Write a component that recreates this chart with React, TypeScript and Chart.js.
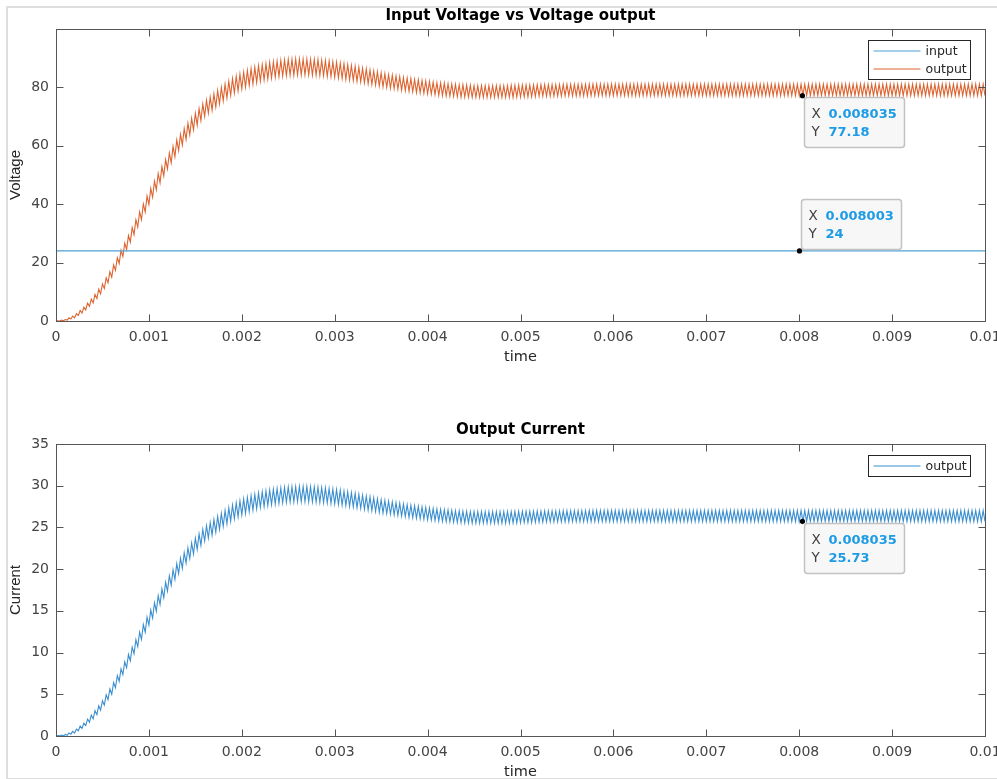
import React, { useEffect, useRef } from 'react';
import { Chart, registerables } from 'chart.js';

Chart.register(...registerables);

// ---------------- data ----------------
const SAMPLE_STEP = 0.00002; // seconds between consecutive samples (0 .. 0.01 s, 501 samples)

const X_TICKS = [0, 0.001, 0.002, 0.003, 0.004, 0.005, 0.006, 0.007, 0.008, 0.009, 0.01];
const VOLTAGE_Y_TICKS = [0, 20, 40, 60, 80];
const CURRENT_Y_TICKS = [0, 5, 10, 15, 20, 25, 30, 35];

const INPUT_TIME = [0, 0.01];
const INPUT_VOLTAGE = [24, 24];

const OUTPUT_VOLTAGE = [
  /* k0   */ 0.0, 0.1, 0.0, 0.3, 0.1, 0.5, 0.3, 1.1, 0.7, 1.7,
  /* k10  */ 1.1, 2.5, 1.9, 3.6, 2.7, 4.7, 3.8, 6.1, 5.0, 7.5,
  /* k20  */ 6.2, 9.1, 7.7, 10.9, 9.3, 12.7, 11.1, 14.8, 13.1, 16.9,
  /* k30  */ 15.0, 19.2, 17.3, 21.7, 19.7, 24.2, 22.1, 26.7, 24.5, 29.3,
  /* k40  */ 27.0, 32.0, 29.6, 34.7, 32.2, 37.4, 34.7, 40.1, 37.3, 42.8,
  /* k50  */ 39.9, 45.4, 42.4, 47.9, 44.9, 50.5, 47.3, 52.9, 49.7, 55.3,
  /* k60  */ 52.1, 57.6, 54.2, 59.8, 56.3, 62.0, 58.4, 63.9, 60.3, 65.9,
  /* k70  */ 62.2, 67.7, 63.8, 69.4, 65.5, 71.1, 67.1, 72.7, 68.6, 74.3,
  /* k80  */ 70.1, 75.6, 71.2, 76.7, 72.2, 77.8, 73.3, 78.9, 74.4, 80.0,
  /* k90  */ 75.4, 81.1, 76.4, 82.1, 77.3, 83.0, 78.1, 83.8, 78.8, 84.5,
  /* k100 */ 79.5, 85.2, 80.1, 85.8, 80.7, 86.4, 81.2, 86.9, 81.7, 87.4,
  /* k110 */ 82.2, 87.8, 82.6, 88.1, 82.9, 88.5, 83.2, 88.7, 83.5, 89.0,
  /* k120 */ 83.7, 89.2, 83.9, 89.4, 84.1, 89.6, 84.2, 89.6, 84.2, 89.7,
  /* k130 */ 84.3, 89.7, 84.3, 89.7, 84.3, 89.7, 84.3, 89.6, 84.2, 89.6,
  /* k140 */ 84.2, 89.5, 84.1, 89.3, 84.0, 89.2, 83.8, 89.0, 83.7, 88.8,
  /* k150 */ 83.5, 88.6, 83.3, 88.3, 83.1, 88.1, 82.8, 87.8, 82.6, 87.5,
  /* k160 */ 82.4, 87.2, 82.1, 86.9, 81.9, 86.6, 81.6, 86.3, 81.3, 85.9,
  /* k170 */ 81.0, 85.6, 80.8, 85.3, 80.5, 85.0, 80.2, 84.7, 80.0, 84.4,
  /* k180 */ 79.8, 84.2, 79.6, 83.9, 79.4, 83.7, 79.1, 83.4, 78.9, 83.2,
  /* k190 */ 78.7, 83.0, 78.5, 82.7, 78.3, 82.6, 78.2, 82.4, 78.0, 82.2,
  /* k200 */ 77.8, 82.0, 77.7, 81.8, 77.5, 81.6, 77.3, 81.5, 77.2, 81.4,
  /* k210 */ 77.1, 81.2, 77.0, 81.1, 76.9, 81.0, 76.8, 80.9, 76.7, 80.9,
  /* k220 */ 76.7, 80.8, 76.7, 80.7, 76.6, 80.6, 76.6, 80.6, 76.6, 80.6,
  /* k230 */ 76.6, 80.6, 76.6, 80.6, 76.6, 80.6, 76.6, 80.6, 76.6, 80.6,
  /* k240 */ 76.6, 80.6, 76.6, 80.6, 76.6, 80.7, 76.6, 80.7, 76.7, 80.8,
  /* k250 */ 76.7, 80.8, 76.8, 80.8, 76.8, 80.8, 76.8, 80.8, 76.9, 80.9,
  /* k260 */ 77.0, 80.9, 77.0, 80.9, 77.0, 80.9, 77.0, 80.9, 77.0, 80.9,
  /* k270 */ 77.0, 80.9, 77.0, 81.0, 77.1, 81.0, 77.1, 81.0, 77.1, 81.0,
  /* k280 */ 77.1, 81.0, 77.1, 81.0, 77.1, 81.0, 77.1, 81.1, 77.2, 81.1,
  /* k290 */ 77.2, 81.1, 77.2, 81.1, 77.2, 81.1, 77.2, 81.1, 77.2, 81.1,
  /* k300 */ 77.2, 81.1, 77.2, 81.1, 77.2, 81.1, 77.2, 81.1, 77.2, 81.1,
  /* k310 */ 77.2, 81.1, 77.2, 81.1, 77.2, 81.1, 77.2, 81.1, 77.2, 81.1,
  /* k320 */ 77.2, 81.1, 77.2, 81.1, 77.2, 81.1, 77.2, 81.1, 77.2, 81.1,
  /* k330 */ 77.2, 81.1, 77.2, 81.1, 77.2, 81.1, 77.2, 81.1, 77.2, 81.1,
  /* k340 */ 77.2, 81.1, 77.2, 81.1, 77.2, 81.1, 77.2, 81.1, 77.2, 81.1,
  /* k350 */ 77.2, 81.1, 77.2, 81.1, 77.2, 81.1, 77.2, 81.1, 77.2, 81.1,
  /* k360 */ 77.2, 81.1, 77.2, 81.1, 77.2, 81.1, 77.2, 81.1, 77.2, 81.1,
  /* k370 */ 77.2, 81.1, 77.2, 81.1, 77.2, 81.1, 77.2, 81.1, 77.2, 81.1,
  /* k380 */ 77.2, 81.1, 77.2, 81.1, 77.2, 81.1, 77.2, 81.1, 77.2, 81.1,
  /* k390 */ 77.2, 81.1, 77.2, 81.1, 77.2, 81.1, 77.2, 81.1, 77.2, 81.1,
  /* k400 */ 77.2, 81.1, 77.2, 81.1, 77.2, 81.1, 77.2, 81.1, 77.2, 81.1,
  /* k410 */ 77.2, 81.1, 77.2, 81.1, 77.2, 81.1, 77.2, 81.1, 77.2, 81.1,
  /* k420 */ 77.2, 81.1, 77.2, 81.1, 77.2, 81.1, 77.2, 81.1, 77.2, 81.1,
  /* k430 */ 77.2, 81.1, 77.2, 81.1, 77.2, 81.1, 77.2, 81.1, 77.2, 81.1,
  /* k440 */ 77.2, 81.1, 77.2, 81.1, 77.2, 81.1, 77.2, 81.1, 77.2, 81.1,
  /* k450 */ 77.2, 81.1, 77.2, 81.1, 77.2, 81.1, 77.2, 81.1, 77.2, 81.1,
  /* k460 */ 77.2, 81.1, 77.2, 81.1, 77.2, 81.1, 77.2, 81.1, 77.2, 81.1,
  /* k470 */ 77.2, 81.1, 77.2, 81.1, 77.2, 81.1, 77.2, 81.1, 77.2, 81.1,
  /* k480 */ 77.2, 81.1, 77.2, 81.1, 77.2, 81.1, 77.2, 81.1, 77.2, 81.1,
  /* k490 */ 77.2, 81.1, 77.2, 81.1, 77.2, 81.1, 77.2, 81.1, 77.2, 81.1,
  /* k500 */ 77.2,
];

const OUTPUT_CURRENT = [
  /* k0   */ 0.00, 0.04, 0.01, 0.11, 0.02, 0.18, 0.09, 0.37, 0.22, 0.56,
  /* k10  */ 0.35, 0.83, 0.63, 1.19, 0.91, 1.55, 1.25, 2.03, 1.65, 2.51,
  /* k20  */ 2.05, 3.04, 2.58, 3.63, 3.11, 4.22, 3.70, 4.93, 4.35, 5.64,
  /* k30  */ 5.00, 6.41, 5.78, 7.23, 6.56, 8.05, 7.36, 8.91, 8.18, 9.77,
  /* k40  */ 9.00, 10.65, 9.86, 11.55, 10.72, 12.45, 11.58, 13.35, 12.44, 14.25,
  /* k50  */ 13.30, 15.12, 14.13, 15.97, 14.96, 16.82, 15.78, 17.63, 16.57, 18.44,
  /* k60  */ 17.36, 19.20, 18.07, 19.93, 18.78, 20.66, 19.46, 21.31, 20.09, 21.96,
  /* k70  */ 20.72, 22.56, 21.27, 23.13, 21.82, 23.70, 22.36, 24.23, 22.87, 24.76,
  /* k80  */ 23.38, 25.20, 23.73, 25.57, 24.08, 25.94, 24.44, 26.31, 24.79, 26.68,
  /* k90  */ 25.14, 27.02, 25.45, 27.35, 25.76, 27.68, 26.04, 27.93, 26.27, 28.18,
  /* k100 */ 26.50, 28.40, 26.70, 28.60, 26.90, 28.80, 27.08, 28.96, 27.24, 29.12,
  /* k110 */ 27.40, 29.26, 27.52, 29.38, 27.64, 29.50, 27.74, 29.58, 27.82, 29.66,
  /* k120 */ 27.90, 29.73, 27.96, 29.79, 28.02, 29.85, 28.06, 29.87, 28.08, 29.89,
  /* k130 */ 28.10, 29.90, 28.10, 29.90, 28.10, 29.90, 28.09, 29.88, 28.07, 29.86,
  /* k140 */ 28.05, 29.83, 28.02, 29.78, 27.99, 29.73, 27.94, 29.66, 27.89, 29.60,
  /* k150 */ 27.83, 29.53, 27.76, 29.44, 27.69, 29.35, 27.61, 29.26, 27.54, 29.17,
  /* k160 */ 27.47, 29.08, 27.38, 28.97, 27.29, 28.86, 27.19, 28.75, 27.10, 28.64,
  /* k170 */ 27.01, 28.54, 26.92, 28.43, 26.83, 28.32, 26.74, 28.23, 26.67, 28.14,
  /* k180 */ 26.60, 28.06, 26.52, 27.97, 26.45, 27.89, 26.37, 27.81, 26.30, 27.72,
  /* k190 */ 26.22, 27.65, 26.17, 27.58, 26.11, 27.52, 26.05, 27.45, 26.00, 27.39,
  /* k200 */ 25.94, 27.33, 25.89, 27.26, 25.83, 27.20, 25.78, 27.16, 25.74, 27.12,
  /* k210 */ 25.70, 27.08, 25.67, 27.03, 25.63, 26.99, 25.60, 26.97, 25.58, 26.95,
  /* k220 */ 25.56, 26.93, 25.55, 26.90, 25.53, 26.88, 25.52, 26.88, 25.52, 26.88,
  /* k230 */ 25.52, 26.88, 25.52, 26.88, 25.52, 26.88, 25.52, 26.88, 25.52, 26.88,
  /* k240 */ 25.52, 26.88, 25.52, 26.88, 25.52, 26.90, 25.54, 26.91, 25.55, 26.92,
  /* k250 */ 25.58, 26.93, 25.59, 26.94, 25.60, 26.93, 25.61, 26.94, 25.62, 26.95,
  /* k260 */ 25.65, 26.95, 25.66, 26.96, 25.67, 26.97, 25.67, 26.98, 25.68, 26.98,
  /* k270 */ 25.68, 26.98, 25.68, 26.99, 25.69, 26.99, 25.69, 27.00, 25.70, 27.00,
  /* k280 */ 25.70, 27.00, 25.70, 27.01, 25.71, 27.01, 25.71, 27.02, 25.72, 27.02,
  /* k290 */ 25.72, 27.02, 25.72, 27.02, 25.72, 27.02, 25.72, 27.02, 25.72, 27.02,
  /* k300 */ 25.72, 27.02, 25.72, 27.02, 25.72, 27.02, 25.72, 27.02, 25.72, 27.02,
  /* k310 */ 25.72, 27.02, 25.72, 27.02, 25.72, 27.02, 25.72, 27.02, 25.72, 27.02,
  /* k320 */ 25.72, 27.02, 25.72, 27.02, 25.72, 27.02, 25.72, 27.02, 25.72, 27.02,
  /* k330 */ 25.72, 27.02, 25.72, 27.02, 25.72, 27.02, 25.72, 27.02, 25.72, 27.02,
  /* k340 */ 25.72, 27.02, 25.72, 27.02, 25.72, 27.02, 25.72, 27.02, 25.72, 27.02,
  /* k350 */ 25.72, 27.02, 25.72, 27.02, 25.72, 27.02, 25.72, 27.02, 25.72, 27.02,
  /* k360 */ 25.72, 27.02, 25.72, 27.02, 25.72, 27.02, 25.72, 27.02, 25.72, 27.02,
  /* k370 */ 25.72, 27.02, 25.72, 27.02, 25.72, 27.02, 25.72, 27.02, 25.72, 27.02,
  /* k380 */ 25.72, 27.02, 25.72, 27.02, 25.72, 27.02, 25.72, 27.02, 25.72, 27.02,
  /* k390 */ 25.72, 27.02, 25.72, 27.02, 25.72, 27.02, 25.72, 27.02, 25.72, 27.02,
  /* k400 */ 25.72, 27.02, 25.72, 27.02, 25.72, 27.02, 25.72, 27.02, 25.72, 27.02,
  /* k410 */ 25.72, 27.02, 25.72, 27.02, 25.72, 27.02, 25.72, 27.02, 25.72, 27.02,
  /* k420 */ 25.72, 27.02, 25.72, 27.02, 25.72, 27.02, 25.72, 27.02, 25.72, 27.02,
  /* k430 */ 25.72, 27.02, 25.72, 27.02, 25.72, 27.02, 25.72, 27.02, 25.72, 27.02,
  /* k440 */ 25.72, 27.02, 25.72, 27.02, 25.72, 27.02, 25.72, 27.02, 25.72, 27.02,
  /* k450 */ 25.72, 27.02, 25.72, 27.02, 25.72, 27.02, 25.72, 27.02, 25.72, 27.02,
  /* k460 */ 25.72, 27.02, 25.72, 27.02, 25.72, 27.02, 25.72, 27.02, 25.72, 27.02,
  /* k470 */ 25.72, 27.02, 25.72, 27.02, 25.72, 27.02, 25.72, 27.02, 25.72, 27.02,
  /* k480 */ 25.72, 27.02, 25.72, 27.02, 25.72, 27.02, 25.72, 27.02, 25.72, 27.02,
  /* k490 */ 25.72, 27.02, 25.72, 27.02, 25.72, 27.02, 25.72, 27.02, 25.72, 27.02,
  /* k500 */ 25.72,
];

// data tips (cursor read-outs) shown in the figure
const VOLTAGE_TIP_X = [0.008035, 0.008003];
const VOLTAGE_TIP_Y = [77.18, 24];
const VOLTAGE_TIP_ABOVE = [false, true];
const CURRENT_TIP_X = [0.008035];
const CURRENT_TIP_Y = [25.73];
const CURRENT_TIP_ABOVE = [false];

// ---------------- styling ----------------
const FONT = "'DejaVu Sans', sans-serif";
const AXIS_COLOR = '#555555';
const TEXT_COLOR = '#444444';
const INPUT_COLOR = '#4f9fd5';
const OUTPUT_V_COLOR = '#dd6430';
const OUTPUT_I_COLOR = '#3b8fd0';

type Tip = { x: number; y: number; above: boolean };

function matlabPlugin(xTicks: number[], yTicks: number[], tips: Tip[]) {
  return {
    id: 'matlabDecor',
    afterDatasetsDraw(chart: any) {
      const { ctx, chartArea } = chart;
      const xs = chart.scales.x;
      const ys = chart.scales.y;
      const L = Math.round(chartArea.left) + 0.5;
      const R = Math.round(chartArea.right) + 0.5;
      const T = Math.round(chartArea.top) + 0.5;
      const B = Math.round(chartArea.bottom) + 0.5;
      ctx.save();
      // box
      ctx.strokeStyle = AXIS_COLOR;
      ctx.lineWidth = 1;
      ctx.strokeRect(L, T, R - L, B - T);
      // inward ticks
      const TL = 7;
      ctx.beginPath();
      xTicks.forEach((v) => {
        const px = Math.round(xs.getPixelForValue(v)) + 0.5;
        ctx.moveTo(px, B);
        ctx.lineTo(px, B - TL);
        ctx.moveTo(px, T);
        ctx.lineTo(px, T + TL);
      });
      yTicks.forEach((v) => {
        const py = Math.round(ys.getPixelForValue(v)) + 0.5;
        ctx.moveTo(L, py);
        ctx.lineTo(L + TL, py);
        ctx.moveTo(R, py);
        ctx.lineTo(R - TL, py);
      });
      ctx.stroke();

      // legend (inside, north-east)
      const ds = chart.data.datasets;
      const rowH = 18.5;
      const bw = 102;
      const bx = Math.round(chartArea.right - 117) + 0.5;
      const by = Math.round(chartArea.top + 11) + 0.5;
      const bh = Math.round(2 + rowH * ds.length);
      ctx.fillStyle = '#ffffff';
      ctx.fillRect(bx, by, bw, bh);
      ctx.strokeStyle = '#262626';
      ctx.strokeRect(bx, by, bw, bh);
      ctx.font = `12.5px ${FONT}`;
      ctx.textBaseline = 'middle';
      ctx.textAlign = 'left';
      ds.forEach((d: any, i: number) => {
        const cy = Math.round(by + 1 + rowH / 2 + rowH * i);
        ctx.strokeStyle = d.borderColor;
        ctx.lineWidth = 1.2;
        ctx.beginPath();
        ctx.moveTo(bx + 5, cy);
        ctx.lineTo(bx + 52, cy);
        ctx.stroke();
        ctx.fillStyle = '#262626';
        ctx.fillText(d.label, bx + 57, cy + 0.5);
      });

      // data tips
      tips.forEach((tip) => {
        const px = xs.getPixelForValue(tip.x);
        const py = ys.getPixelForValue(tip.y);
        const w = 100;
        const h = 50;
        const tx = Math.round(px + 1.5) + 0.5;
        const ty = Math.round(tip.above ? py - 52 : py + 1.5) + 0.5;
        ctx.fillStyle = '#f7f7f7';
        ctx.strokeStyle = '#c2c2c2';
        ctx.lineWidth = 1.5;
        ctx.beginPath();
        if ((ctx as any).roundRect) (ctx as any).roundRect(tx, ty, w, h, 3);
        else ctx.rect(tx, ty, w, h);
        ctx.fill();
        ctx.stroke();
        ctx.textBaseline = 'middle';
        ctx.textAlign = 'left';
        ctx.font = `13.5px ${FONT}`;
        ctx.fillStyle = '#404040';
        ctx.fillText('X', tx + 7, ty + 17);
        ctx.fillText('Y', tx + 7, ty + 35);
        ctx.font = `bold 13px ${FONT}`;
        ctx.fillStyle = '#1d9be6';
        ctx.fillText(String(tip.x), tx + 24, ty + 17);
        ctx.fillText(String(tip.y), tx + 24, ty + 35);
        ctx.fillStyle = '#000000';
        ctx.beginPath();
        ctx.arc(px, py, 2.6, 0, Math.PI * 2);
        ctx.fill();
      });
      ctx.restore();
    },
  };
}

function xTickLabel(v: number) {
  return v === 0 ? '0' : String(Number(v.toFixed(3)));
}

function buildOptions(opts: {
  title: string;
  titlePadTop: number;
  titlePadBottom: number;
  yTitle: string;
  yMax: number;
  yTicks: number[];
  padBottom: number;
}) {
  return {
    responsive: false,
    animation: false as const,
    events: [] as any[],
    layout: { padding: { left: 0, right: 25, top: 0, bottom: opts.padBottom } },
    plugins: {
      legend: { display: false },
      tooltip: { enabled: false },
      title: {
        display: true,
        text: opts.title,
        fullSize: false,
        color: '#000000',
        font: { family: FONT, size: 15, weight: 'bold' as const, lineHeight: 1.2 },
        padding: { top: opts.titlePadTop, bottom: opts.titlePadBottom },
      },
    },
    elements: { point: { radius: 0 }, line: { tension: 0 } },
    scales: {
      x: {
        type: 'linear' as const,
        min: 0,
        max: 0.01,
        grid: { display: false, drawTicks: false },
        border: { display: false },
        afterBuildTicks: (scale: any) => {
          scale.ticks = X_TICKS.map((v) => ({ value: v }));
        },
        afterFit: (scale: any) => {
          scale.height = 50;
        },
        ticks: {
          autoSkip: false,
          maxRotation: 0,
          padding: 8,
          color: TEXT_COLOR,
          font: { family: FONT, size: 14 },
          callback: (v: any) => xTickLabel(Number(v)),
        },
        title: {
          display: true,
          text: 'time',
          color: '#262626',
          font: { family: FONT, size: 14.5, lineHeight: 1.2 },
          padding: { top: 0, bottom: 5 },
        },
      },
      y: {
        type: 'linear' as const,
        min: 0,
        max: opts.yMax,
        grid: { display: false, drawTicks: false },
        border: { display: false },
        afterBuildTicks: (scale: any) => {
          scale.ticks = opts.yTicks.map((v) => ({ value: v }));
        },
        afterFit: (scale: any) => {
          scale.width = 56;
        },
        ticks: {
          autoSkip: false,
          padding: 7,
          color: TEXT_COLOR,
          font: { family: FONT, size: 14 },
          callback: (v: any) => String(v),
        },
        title: {
          display: true,
          text: opts.yTitle,
          color: '#262626',
          font: { family: "'Liberation Sans', Arial, sans-serif", size: 15, lineHeight: 1.2 },
          padding: { top: 7, bottom: 0 },
        },
      },
    },
  };
}

export default function App() {
  const topRef = useRef<HTMLCanvasElement | null>(null);
  const botRef = useRef<HTMLCanvasElement | null>(null);

  useEffect(() => {
    if (!topRef.current || !botRef.current) return;

    const outputVoltagePts = OUTPUT_VOLTAGE.map((v, i) => ({ x: i * SAMPLE_STEP, y: v }));
    const inputPts = INPUT_TIME.map((t, i) => ({ x: t, y: INPUT_VOLTAGE[i] }));
    const currentPts = OUTPUT_CURRENT.map((v, i) => ({ x: i * SAMPLE_STEP, y: v }));

    const vTips: Tip[] = VOLTAGE_TIP_X.map((x, i) => ({ x, y: VOLTAGE_TIP_Y[i], above: VOLTAGE_TIP_ABOVE[i] }));
    const iTips: Tip[] = CURRENT_TIP_X.map((x, i) => ({ x, y: CURRENT_TIP_Y[i], above: CURRENT_TIP_ABOVE[i] }));

    const top = new Chart(topRef.current, {
      type: 'line',
      data: {
        datasets: [
          { label: 'input', data: inputPts, borderColor: INPUT_COLOR, borderWidth: 1.2, pointRadius: 0, fill: false },
          { label: 'output', data: outputVoltagePts, borderColor: OUTPUT_V_COLOR, borderWidth: 1.1, pointRadius: 0, fill: false },
        ],
      },
      options: buildOptions({
        title: 'Input Voltage vs Voltage output',
        titlePadTop: 7,
        titlePadBottom: 4,
        yTitle: 'Voltage',
        yMax: 100,
        yTicks: VOLTAGE_Y_TICKS,
        padBottom: 19,
      }) as any,
      plugins: [matlabPlugin(X_TICKS, VOLTAGE_Y_TICKS.concat([100]), vTips)],
    });

    const bot = new Chart(botRef.current, {
      type: 'line',
      data: {
        datasets: [
          { label: 'output', data: currentPts, borderColor: OUTPUT_I_COLOR, borderWidth: 1.1, pointRadius: 0, fill: false },
        ],
      },
      options: buildOptions({
        title: 'Output Current',
        titlePadTop: 21,
        titlePadBottom: 5,
        yTitle: 'Current',
        yMax: 35,
        yTicks: CURRENT_Y_TICKS,
        padBottom: 14,
      }) as any,
      plugins: [matlabPlugin(X_TICKS, CURRENT_Y_TICKS, iTips)],
    });

    return () => {
      top.destroy();
      bot.destroy();
    };
  }, []);

  return (
    <div
      style={{
        position: 'fixed',
        left: 0,
        top: 0,
        width: 997,
        height: 779,
        overflow: 'hidden',
        background: '#ffffff',
      }}
    >
      <canvas ref={topRef} width={1010} height={390} style={{ position: 'absolute', left: 0, top: 0, display: 'block' }} />
      <canvas ref={botRef} width={1010} height={400} style={{ position: 'absolute', left: 0, top: 400, display: 'block' }} />
      <div
        style={{
          position: 'absolute',
          left: 6,
          top: 6,
          width: 1100,
          height: 770,
          borderTop: '2px solid #dedede',
          borderLeft: '2px solid #dedede',
          borderBottom: '2px solid #dedede',
          pointerEvents: 'none',
        }}
      />
    </div>
  );
}
